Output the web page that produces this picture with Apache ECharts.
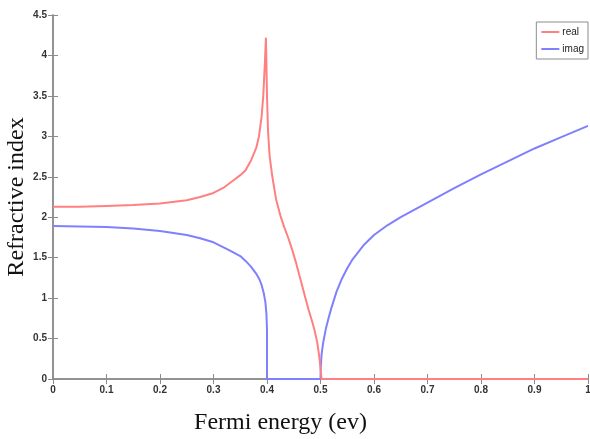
<!DOCTYPE html>
<html>
<head>
<meta charset="utf-8">
<script src="https://cdn.jsdelivr.net/npm/echarts@6/dist/echarts.min.js"></script>
<style>
  html, body { margin: 0; padding: 0; background: #fff; }
  #main { width: 590px; height: 439px; }
</style>
</head>
<body>
<div id="main"></div>
<script>
// values
var realX = [0, 0.05, 0.1, 0.15, 0.2, 0.25, 0.275, 0.3, 0.32, 0.34, 0.35, 0.36, 0.37, 0.38, 0.385, 0.39, 0.393, 0.396, 0.398,
  0.4, 0.402, 0.405, 0.41, 0.417, 0.425, 0.432, 0.44, 0.447, 0.455, 0.463, 0.471, 0.478, 0.484, 0.489, 0.494, 0.498, 0.502,
  0.6, 0.7, 0.8, 0.9, 1.0];
var realY = [2.13, 2.13, 2.14, 2.15, 2.17, 2.21, 2.25, 2.3, 2.37, 2.47, 2.52, 2.58, 2.7, 2.86, 3.0, 3.25, 3.5, 3.9, 4.22,
  3.5, 3.05, 2.75, 2.5, 2.22, 2.02, 1.88, 1.74, 1.6, 1.42, 1.22, 1.02, 0.85, 0.72, 0.6, 0.45, 0.26, 0,
  0, 0, 0, 0, 0];

var imagX = [0, 0.1, 0.15, 0.2, 0.25, 0.275, 0.3, 0.33, 0.35, 0.36, 0.37, 0.38, 0.386, 0.39, 0.394, 0.397, 0.399,
  0.4, 0.4, 0.5, 0.5005, 0.502, 0.505, 0.51, 0.515, 0.52, 0.53, 0.54, 0.55, 0.56, 0.58, 0.6, 0.625, 0.65, 0.675,
  0.7, 0.75, 0.8, 0.85, 0.9, 0.95, 1.0];
var imagY = [1.89, 1.88, 1.86, 1.83, 1.78, 1.74, 1.69, 1.59, 1.52, 1.46, 1.39, 1.3, 1.23, 1.16, 1.06, 0.95, 0.8,
  0.6, 0, 0, 0.15, 0.3, 0.45, 0.62, 0.75, 0.87, 1.08, 1.24, 1.37, 1.48, 1.65, 1.78, 1.9, 2.0, 2.09,
  2.18, 2.36, 2.53, 2.69, 2.85, 2.99, 3.13];

function zip(xs, ys) {
  return xs.map(function (x, i) { return [x, ys[i]]; });
}

var axisGray = '#8c8c8c';
var tickFont = { fontFamily: 'Liberation Sans Narrow, Liberation Sans, Arial', fontSize: 10, color: '#333', fontWeight: 'bold' };

var option = {
  animation: false,
  grid: { left: 53, right: 2, top: 15, bottom: 60, outerBoundsMode: 'none', containLabel: false },
  legend: {
    orient: 'vertical',
    right: 2,
    top: 22,
    padding: [5, 4, 5, 5],
    itemGap: 7,
    itemWidth: 18,
    itemHeight: 2,
    icon: 'rect',
    borderColor: axisGray,
    borderWidth: 1,
    backgroundColor: '#fff',
    textStyle: { fontFamily: 'Liberation Sans Narrow, Arial', fontSize: 10, color: '#222', padding: [0, 0, 0, -2] },
    data: ['real', 'imag']
  },
  xAxis: [{
    type: 'value',
    min: 0, max: 1, interval: 0.1,
    name: 'Fermi energy (ev)',
    nameLocation: 'middle',
    nameGap: 32,
    nameMoveOverlap: false,
    nameTextStyle: { fontFamily: 'Liberation Serif, Times New Roman', fontSize: 24, color: '#111', padding: [0, 80, 0, 0] },
    axisLine: { show: true, lineStyle: { color: axisGray, width: 1.5 } },
    axisTick: { show: true, inside: true, length: 5, lineStyle: { color: axisGray } },
    axisLabel: Object.assign({ margin: 6 }, tickFont),
    splitLine: { show: false }
  }, {
    type: 'value',
    position: 'top',
    min: 0, max: 1, interval: 0.1,
    axisLine: { show: true, lineStyle: { color: axisGray, width: 1.5 } },
    axisTick: { show: true, inside: true, length: 5, lineStyle: { color: axisGray } },
    axisLabel: { show: false },
    splitLine: { show: false }
  }],
  yAxis: [{
    type: 'value',
    min: 0, max: 4.5, interval: 0.5,
    name: 'Refractive index',
    nameLocation: 'middle',
    nameGap: 24,
    nameMoveOverlap: false,
    nameTextStyle: { fontFamily: 'Liberation Serif, Times New Roman', fontSize: 24, color: '#111' },
    axisLine: { show: true, lineStyle: { color: axisGray, width: 1.5 } },
    axisTick: { show: true, inside: true, length: 5, lineStyle: { color: axisGray } },
    axisLabel: Object.assign({ margin: 6 }, tickFont),
    splitLine: { show: false }
  }, {
    type: 'value',
    position: 'right',
    min: 0, max: 4.5, interval: 0.5,
    axisLine: { show: true, lineStyle: { color: axisGray, width: 1.5 } },
    axisTick: { show: true, inside: true, length: 5, lineStyle: { color: axisGray } },
    axisLabel: { show: false },
    splitLine: { show: false }
  }],
  series: [
    {
      name: 'imag',
      type: 'line',
      data: zip(imagX, imagY),
      showSymbol: false,
      color: '#8080ff',
      lineStyle: { width: 2, color: '#8080ff' }
    },
    {
      name: 'real',
      type: 'line',
      data: zip(realX, realY),
      showSymbol: false,
      color: '#ff8080',
      lineStyle: { width: 2, color: '#ff8080' }
    }
  ]
};

var myChart = echarts.init(document.getElementById('main'));
myChart.setOption(option);
</script>
</body>
</html>
